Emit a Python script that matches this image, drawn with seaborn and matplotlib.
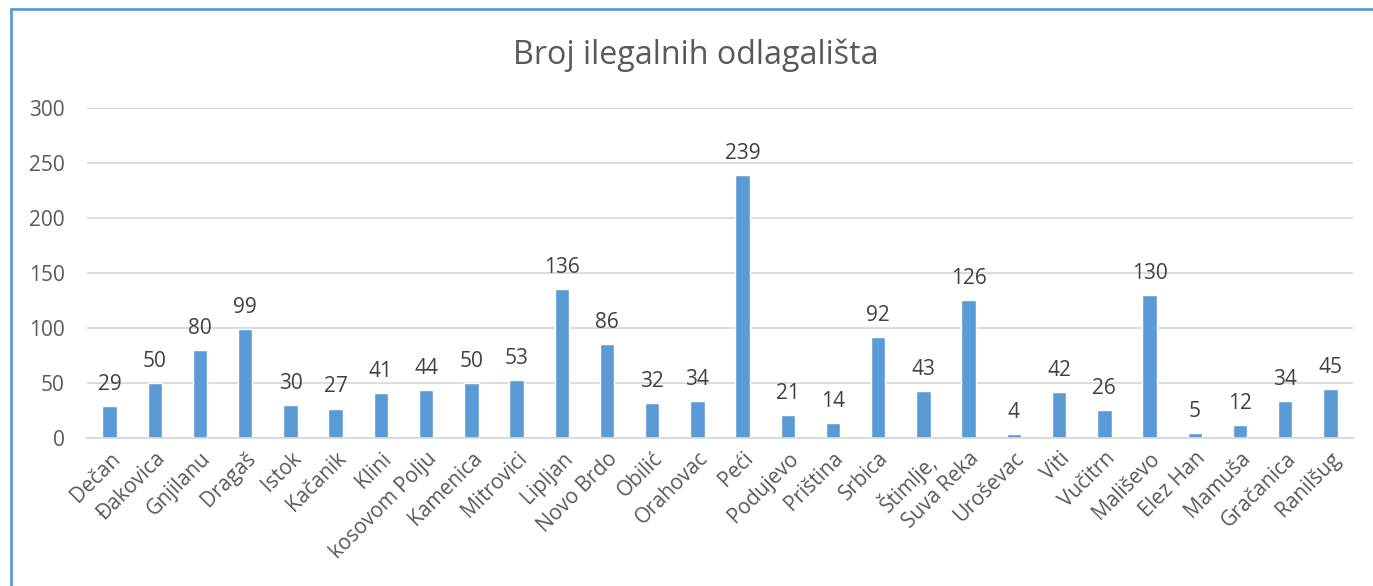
import matplotlib
matplotlib.use("Agg")
import matplotlib.pyplot as plt
import seaborn as sns
import pandas as pd
from matplotlib.patches import Rectangle

categories = ["Dečan", "Đakovica", "Gnjilanu", "Dragaš", "Istok", "Kačanik", "Klini",
              "kosovom Polju", "Kamenica", "Mitrovici", "Lipljan", "Novo Brdo", "Obilić",
              "Orahovac", "Peći", "Podujevo", "Priština", "Srbica", "Štimlje,", "Suva Reka",
              "Uroševac", "Viti", "Vučitrn", "Mališevo", "Elez Han", "Mamuša", "Gračanica",
              "Ranilšug"]
values = [29, 50, 80, 99, 30, 27, 41, 44, 50, 53, 136, 86, 32, 34, 239, 21, 14, 92, 43,
          126, 4, 42, 26, 130, 5, 12, 34, 45]
yticks = [0, 50, 100, 150, 200, 250, 300]
title = "Broj ilegalnih odlagališta"

sns.set_theme(style="white")
plt.rcParams['font.family'] = ['Open Sans', 'DejaVu Sans']

W, H = 1373, 586
fig = plt.figure(figsize=(W / 100, H / 100), dpi=100)
ax = fig.add_axes([87 / W, 1 - 438.3 / H, (1353 - 87) / W, (438.3 - 108.3) / H])

df = pd.DataFrame({"cat": categories, "val": values})
sns.barplot(data=df, x="cat", y="val", color="#5B9BD5", width=0.32, saturation=1, ax=ax)

ax.set_ylim(0, 300)
ax.set_xlim(-0.5, len(categories) - 0.5)
ax.set_yticks(yticks)
ax.set_yticklabels([str(t) for t in yticks], fontsize=15, color="#595959")
ax.yaxis.grid(True, color="#D9D9D9", linewidth=1.3)
ax.set_axisbelow(True)
for s in ["top", "right", "left"]:
    ax.spines[s].set_visible(False)
ax.spines["bottom"].set_color("#D9D9D9")
ax.spines["bottom"].set_linewidth(1.3)
ax.tick_params(axis="both", length=0)
ax.tick_params(axis="y", pad=16)
ax.set_xlabel("")
ax.set_ylabel("")
ax.set_xticks(range(len(categories)))
ax.set_xticklabels(categories, rotation=45, ha="right", rotation_mode="anchor",
                   fontsize=15, color="#595959")
ax.tick_params(axis="x", pad=7)

for c in ax.containers:
    ax.bar_label(c, labels=[str(v) for v in values], padding=8, fontsize=15, color="#404040")

fig.text(696 / W, 1 - 55 / H, title, ha="center", va="center", fontsize=23.2, color="#595959")

fig.patches.append(Rectangle((11.5 / W, -0.1), 1.2, 1 - 9 / H + 0.1, transform=fig.transFigure,
                             fill=False, edgecolor="#5B9BD5", linewidth=2, figure=fig))

fig.savefig("out.png", dpi=100, facecolor="white")
